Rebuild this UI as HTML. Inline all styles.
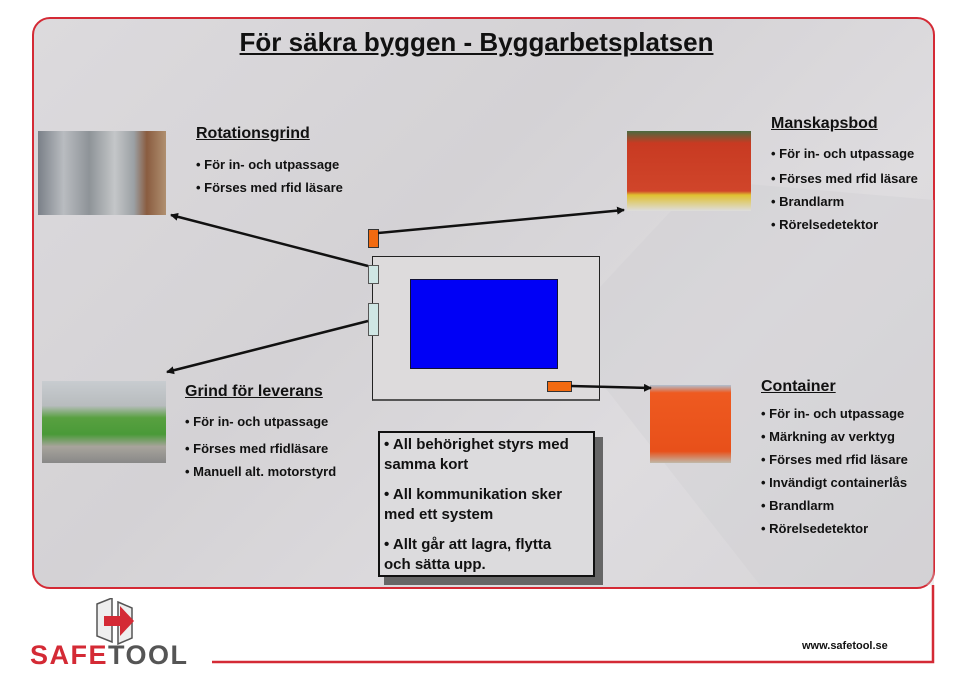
<!DOCTYPE html>
<html><head><meta charset="utf-8"><style>
body{margin:0;width:953px;height:680px;background:#fff;position:relative;overflow:hidden;font-family:"Liberation Sans",Arial,sans-serif;}
.a{position:absolute;}
.t{font-weight:bold;font-size:16px;text-decoration:underline;color:#111;}
.l{font-size:13px;color:#111;font-weight:bold;white-space:nowrap;}
.l div{height:23px;}
</style></head><body>
<div class="a" style="left:32px;top:17px;width:899px;height:568px;border:2px solid #d42a35;border-radius:18px;background:linear-gradient(135deg,#dcdadd 0%,#d4d2d5 40%,#dedcdf 70%,#d6d4d7 100%);"></div>
<svg class="a" style="left:0;top:0" width="953" height="680">
<polygon points="560,330 700,180 934,200 934,585 760,585" fill="#cfcdd0" opacity="0.35"/>
<polyline points="933,585 933,662 212,662" fill="none" stroke="#d42a35" stroke-width="2.5"/>
</svg>
<div class="a" style="left:0;top:27px;width:953px;text-align:center;font-size:26px;font-weight:bold;text-decoration:underline;color:#111;">För säkra byggen - Byggarbetsplatsen</div>

<!-- images -->
<div class="a" style="left:38px;top:131px;width:128px;height:84px;background:linear-gradient(90deg,#7a8088 0%,#b9bcc0 20%,#8e9398 40%,#c4c6c8 60%,#9ba0a4 75%,#8a5c40 85%,#b09070 100%);"></div>
<div class="a" style="left:627px;top:131px;width:124px;height:80px;background:linear-gradient(180deg,#4a6a40 0%,#c83a22 15%,#d0452a 75%,#e0c030 80%,#ddd 100%);"></div>
<div class="a" style="left:42px;top:381px;width:124px;height:82px;background:linear-gradient(180deg,#c8ccd0 0%,#b8bcbe 30%,#58a040 45%,#4a9a38 65%,#a8a49c 80%,#888 100%);"></div>
<div class="a" style="left:650px;top:385px;width:81px;height:78px;background:linear-gradient(180deg,#b0c0d0 0%,#ee5a20 10%,#e8501a 85%,#c0b8a8 100%);"></div>

<!-- diagram -->
<div class="a" style="left:372px;top:256px;width:226px;height:142px;border:1px solid #222;border-bottom:2px solid #555;background:#dddbdc;"></div>
<div class="a" style="left:410px;top:279px;width:146px;height:88px;background:#0000f6;border:1px solid #113;"></div>
<div class="a" style="left:368px;top:229px;width:9px;height:17px;background:#f26a10;border:1px solid #333;"></div>
<div class="a" style="left:368px;top:265px;width:9px;height:17px;background:#cfe6e4;border:1px solid #555;"></div>
<div class="a" style="left:368px;top:303px;width:9px;height:31px;background:#cfe6e4;border:1px solid #555;"></div>
<div class="a" style="left:547px;top:381px;width:23px;height:9px;background:#f26a10;border:1px solid #333;"></div>
<svg class="a" style="left:0;top:0" width="953" height="680">
<defs><marker id="m" markerWidth="8" markerHeight="8" refX="7" refY="4" orient="auto" markerUnits="userSpaceOnUse"><path d="M0,0 L8,4 L0,8z" fill="#111"/></marker></defs>
<g stroke="#111" stroke-width="2.5" fill="none">
<line x1="368" y1="266" x2="171" y2="215" marker-end="url(#m)"/>
<line x1="378" y1="233" x2="624" y2="210" marker-end="url(#m)"/>
<line x1="368" y1="321" x2="167" y2="372" marker-end="url(#m)"/>
<line x1="571" y1="386" x2="651" y2="388" marker-end="url(#m)"/>
</g></svg>

<div class="a t" style="left:196px;top:125px;">Rotationsgrind</div>
<div class="a l" style="left:196px;top:157px;"><div>• För in- och utpassage</div><div>• Förses med rfid läsare</div></div>
<div class="a t" style="left:771px;top:115px;">Manskapsbod</div>
<div class="a l" style="left:771px;top:146px;"><div style="height:25px">• För in- och utpassage</div><div>• Förses med rfid läsare</div><div>• Brandlarm</div><div>• Rörelsedetektor</div></div>
<div class="a t" style="left:185px;top:383px;">Grind för leverans</div>
<div class="a l" style="left:185px;top:414px;"><div style="height:27px">• För in- och utpassage</div><div>• Förses med rfidläsare</div><div>• Manuell alt. motorstyrd</div></div>
<div class="a t" style="left:761px;top:378px;">Container</div>
<div class="a l" style="left:761px;top:406px;line-height:15px;"><div>• För in- och utpassage</div><div>• Märkning av verktyg</div><div>• Förses med rfid läsare</div><div>• Invändigt containerlås</div><div>• Brandlarm</div><div>• Rörelsedetektor</div></div>

<div class="a" style="left:384px;top:437px;width:219px;height:148px;background:#666;"></div>
<div class="a" style="left:378px;top:431px;width:213px;height:142px;border:2px solid #111;background:#dcdbdd;font-size:15px;font-weight:bold;line-height:20px;color:#111;">
<div style="margin:2px 0 0 4px;width:196px">• All behörighet styrs med samma kort</div>
<div style="margin:10px 0 0 4px;width:196px">• All kommunikation sker med ett system</div>
<div style="margin:10px 0 0 4px;width:196px">• Allt går att lagra, flytta och sätta upp.</div>
</div>

<!-- logo -->
<svg class="a" style="left:92px;top:598px" width="52" height="48">
<polygon points="5,6 20,0 20,44 5,38" fill="#eee" stroke="#555" stroke-width="1.5"/>
<polygon points="26,4 40,10 40,40 26,46" fill="#eee" stroke="#555" stroke-width="1.5"/>
<path d="M12,18 L28,18 L28,8 L42,23 L28,38 L28,28 L12,28z" fill="#d42a35"/>
</svg>
<div class="a" style="left:30px;top:640px;font-size:27px;font-weight:bold;letter-spacing:1.5px;"><span style="color:#d42a35">SAFE</span><span style="color:#555">TOOL</span></div>
<div class="a" style="left:802px;top:640px;font-size:11px;font-weight:bold;color:#111;">www.safetool.se</div>
</body></html>
